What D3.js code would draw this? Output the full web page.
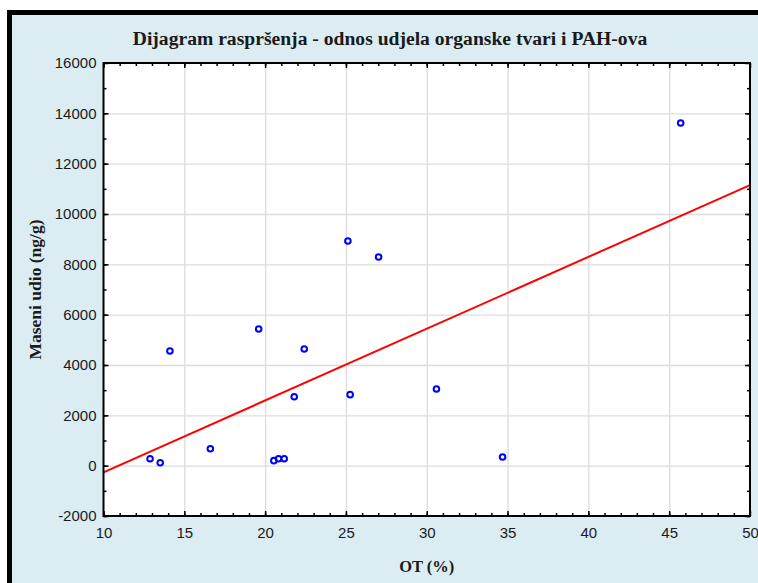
<!DOCTYPE html>
<html>
<head>
<meta charset="utf-8">
<script src="https://cdn.jsdelivr.net/npm/d3@7"></script>
<style>
  body { margin: 0; background: #fff; }
  svg { display: block; }
  .tick text { font-family: "Liberation Sans", Arial, sans-serif; font-size: 15px; fill: #1a1a1a; }
  .grid line { stroke: #dcdcdc; stroke-width: 1.3; }
  .grid .domain { display: none; }
  .ticks line { stroke: #000; stroke-width: 1.5; }
  .ticks .domain { display: none; }
  .lbl { font-family: "Liberation Serif", "Times New Roman", serif; font-weight: bold; fill: #1a1a1a; }
</style>
</head>
<body>
<svg width="758" height="583"></svg>
<script>
// OT (%) and mass fraction (ng/g)
const otPct = [12.88, 13.51, 14.11, 16.61, 19.6, 20.54, 20.83, 21.18, 21.8, 22.42, 25.12, 25.26, 27.02, 30.6, 34.69, 45.71];
const masaUdio = [277, 118, 4556, 675, 5430, 199, 277, 277, 2741, 4636, 8927, 2821, 8291, 3046, 344, 13616];
const xTicks = [10, 15, 20, 25, 30, 35, 40, 45, 50];
const yTicks = [-2000, 0, 2000, 4000, 6000, 8000, 10000, 12000, 14000, 16000];

const title = "Dijagram raspršenja - odnos udjela organske tvari i PAH-ova";
const xTitle = "OT (%)";
const yTitle = "Maseni udio (ng/g)";

const svg = d3.select("svg");

// frame: black band on top and left, light blue panel
svg.append("rect").attr("x", 7).attr("y", 10).attr("width", 751).attr("height", 573).attr("fill", "#000");
svg.append("rect").attr("x", 12).attr("y", 15).attr("width", 746).attr("height", 568).attr("fill", "#dbedf3");

const margin = {left: 103.5, top: 63, right: 8, bottom: 67};
const width = 758 - margin.left - margin.right;
const height = 583 - margin.top - margin.bottom;
const g = svg.append("g").attr("transform", `translate(${margin.left},${margin.top})`);

const x = d3.scaleLinear().domain([10, 50]).range([0, width]);
const y = d3.scaleLinear().domain([-2000, 16000]).range([height, 0]);

g.append("rect").attr("width", width).attr("height", height).attr("fill", "#fff");

// grid
g.append("g").attr("class", "grid")
    .attr("transform", `translate(0,${height})`)
    .call(d3.axisBottom(x).tickValues(xTicks.slice(1, -1)).tickSize(-height).tickFormat(""));
g.append("g").attr("class", "grid")
    .call(d3.axisLeft(y).tickValues(yTicks.slice(1, -1)).tickSize(-width).tickFormat(""));

// minor ticks, all four sides, pointing inward
const xMinor = d3.range(10, 50, 1);
const yMinor = d3.range(-2000, 16000, 1000);
g.append("g").attr("class", "ticks").attr("transform", `translate(0,${height})`)
    .call(d3.axisBottom(x).tickValues(xMinor).tickSize(-3).tickFormat(""));
g.append("g").attr("class", "ticks")
    .call(d3.axisTop(x).tickValues(xMinor).tickSize(-3).tickFormat(""));
g.append("g").attr("class", "ticks")
    .call(d3.axisLeft(y).tickValues(yMinor).tickSize(-3).tickFormat(""));
g.append("g").attr("class", "ticks").attr("transform", `translate(${width},0)`)
    .call(d3.axisRight(y).tickValues(yMinor).tickSize(-3).tickFormat(""));

// major ticks with labels (plain hyphen for negatives, as in the original)
const plain = (d) => String(d);
g.append("g").attr("class", "ticks").attr("transform", `translate(0,${height})`)
    .call(d3.axisBottom(x).tickValues(xTicks).tickSize(-5).tickPadding(11).tickFormat(plain));
g.append("g").attr("class", "ticks")
    .call(d3.axisLeft(y).tickValues(yTicks).tickSize(-5).tickPadding(7).tickFormat(plain));
g.append("g").attr("class", "ticks")
    .call(d3.axisTop(x).tickValues(xTicks).tickSize(-5).tickFormat(""));
g.append("g").attr("class", "ticks").attr("transform", `translate(${width},0)`)
    .call(d3.axisRight(y).tickValues(yTicks).tickSize(-5).tickFormat(""));

// linear fit
const mx = d3.mean(otPct), my = d3.mean(masaUdio);
const sxy = d3.sum(otPct, (v, i) => (v - mx) * (masaUdio[i] - my));
const sxx = d3.sum(otPct, (v) => (v - mx) * (v - mx));
const slope = sxy / sxx, icpt = my - slope * mx;
const fit = x.domain().map((v) => [v, icpt + slope * v]);

g.append("path")
    .datum(fit)
    .attr("fill", "none")
    .attr("stroke", "#ff0000")
    .attr("stroke-width", 2)
    .attr("d", d3.line().x((d) => x(d[0])).y((d) => y(d[1])));

g.selectAll("circle.pt")
    .data(otPct)
    .join("circle")
    .attr("class", "pt")
    .attr("cx", (d) => x(d))
    .attr("cy", (d, i) => y(masaUdio[i]))
    .attr("r", 2.8)
    .attr("fill", "none")
    .attr("stroke", "#0000ff")
    .attr("stroke-width", 2);

// plot frame
g.append("rect").attr("width", width).attr("height", height)
    .attr("fill", "none").attr("stroke", "#000").attr("stroke-width", 2);

svg.append("text").attr("class", "lbl")
    .attr("x", 390).attr("y", 45).attr("text-anchor", "middle")
    .style("font-size", "19.6px").text(title);
svg.append("text").attr("class", "lbl")
    .attr("x", margin.left + width / 2).attr("y", 571.5).attr("text-anchor", "middle")
    .style("font-size", "16.5px").text(xTitle);
svg.append("text").attr("class", "lbl")
    .attr("transform", `translate(41,${margin.top + height / 2}) rotate(-90)`)
    .attr("text-anchor", "middle")
    .style("font-size", "17.5px").text(yTitle);
</script>
</body>
</html>
